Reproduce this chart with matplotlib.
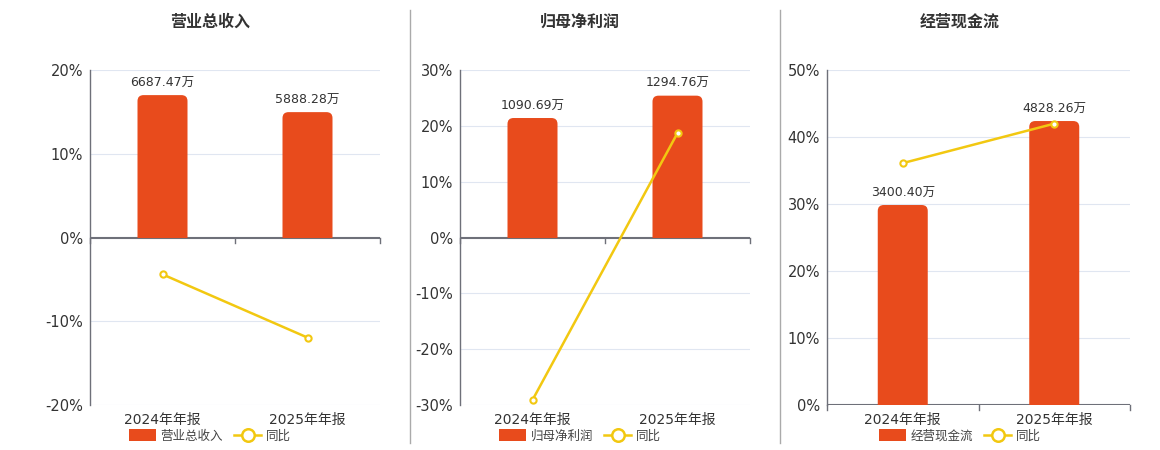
import matplotlib
matplotlib.use("Agg")
import matplotlib.pyplot as plt
from matplotlib.patches import FancyBboxPatch, Rectangle
from matplotlib.lines import Line2D
from matplotlib.ticker import FuncFormatter

plt.rcParams['font.family'] = ['DejaVu Sans', 'Noto Sans CJK SC']

categories = ["2024年年报", "2025年年报"]

titles = ["营业总收入", "归母净利润", "经营现金流"]
bar_values = [
    [6687.47, 5888.28],
    [1090.69, 1294.76],
    [3400.40, 4828.26],
]
bar_labels = [
    ["6687.47万", "5888.28万"],
    ["1090.69万", "1294.76万"],
    ["3400.40万", "4828.26万"],
]
yoy_values = [
    [-4.4, -11.95],
    [-29.1, 18.71],
    [36.1, 41.99],
]
pct_ticks = [
    [-20, -10, 0, 10, 20],
    [-30, -20, -10, 0, 10, 20, 30],
    [0, 10, 20, 30, 40, 50],
]
# hidden bar-axis upper limits (aligned so 0 coincides with 0%)
bar_axis_max = [7867, 1529, 5696]

BAR_COLOR = "#E84B1C"
LINE_COLOR = "#F2C811"
GRID_COLOR = "#E0E6F1"
AXIS_COLOR = "#6E7079"
TEXT_COLOR = "#333333"

W, H = 1160, 450
fig = plt.figure(figsize=(W / 100, H / 100), dpi=100)

# axes pixel boxes: (left, top, right, bottom)
boxes = [(90, 70, 380, 405), (460, 70, 750, 405), (827, 70, 1130, 405)]
title_x = [210, 580, 960]

for i in range(3):
    l, t, r, b = boxes[i]
    ax = fig.add_axes([l / W, 1 - b / H, (r - l) / W, (b - t) / H])
    ticks = pct_ticks[i]
    lo, hi = ticks[0], ticks[-1]
    ax.set_ylim(lo, hi)
    ax.set_xlim(-0.5, 1.5)
    ax.set_yticks(ticks)
    ax.yaxis.set_major_formatter(FuncFormatter(lambda v, p: f"{int(v)}%"))
    ax.tick_params(axis='y', length=0, labelsize=10.5, colors=TEXT_COLOR, pad=5)
    ax.set_xticks([0, 1])
    ax.set_xticklabels(categories)
    ax.tick_params(axis='x', length=0, labelsize=10, colors=TEXT_COLOR, pad=6)
    for sp in ['top', 'right', 'bottom']:
        ax.spines[sp].set_visible(False)
    ax.spines['left'].set_color(AXIS_COLOR)
    ax.spines['left'].set_linewidth(1)
    for v in ticks:
        if v != 0:
            ax.axhline(v, color=GRID_COLOR, lw=0.8, zorder=0)
    # category axis line at zero
    ax.axhline(0, color=AXIS_COLOR, lw=1.5, zorder=4)
    # ticks at category boundaries
    tick_len = 5 * (hi - lo) / (b - t)
    for xb in [-0.5, 0.5, 1.5]:
        ax.plot([xb, xb], [0, -tick_len], color=AXIS_COLOR, lw=1, zorder=4,
                clip_on=False)

    # bars on hidden twin axis
    ax2 = ax.twinx()
    bmax = bar_axis_max[i]
    bmin = bmax * lo / hi
    ax2.set_ylim(bmin, bmax)
    ax2.set_axis_off()
    bw = 50 / ((r - l) / 2)
    bars = ax2.bar([0, 1], bar_values[i], width=bw, color=BAR_COLOR, zorder=2)
    px_per_x = (r - l) / 2
    px_per_y = (b - t) / (bmax - bmin)
    rad_px = 6
    rx = rad_px / px_per_x
    ry = rad_px / px_per_y
    for rect in bars:
        x0, w = rect.get_x(), rect.get_width()
        h = rect.get_height()
        rect.set_visible(False)
        patch = FancyBboxPatch((x0, -2 * ry), w, h + 2 * ry,
                               boxstyle=f"round,pad=0,rounding_size={rx}",
                               mutation_aspect=ry / rx,
                               facecolor=BAR_COLOR, edgecolor='none', zorder=2)
        ax2.add_patch(patch)
        clip = Rectangle((x0 - w, 0), 3 * w, h * 2, transform=ax2.transData)
        patch.set_clip_path(clip)
    for j, v in enumerate(bar_values[i]):
        ax2.annotate(bar_labels[i][j], (j, v), xytext=(0, 4),
                     textcoords='offset points', ha='center', va='bottom',
                     fontsize=9, color=TEXT_COLOR, zorder=6)

    # yoy line on top
    ax3 = ax.twinx()
    ax3.set_ylim(lo, hi)
    ax3.set_axis_off()
    ax3.plot([0, 1], yoy_values[i], color=LINE_COLOR, lw=1.8, zorder=5,
             marker='o', markersize=4.5, markerfacecolor='white',
             markeredgecolor=LINE_COLOR, markeredgewidth=1.5)

    # title
    fig.text(title_x[i] / W, 1 - 22 / H, titles[i], ha='center', va='center',
             fontsize=11.5, fontweight='bold', color=TEXT_COLOR)

    # legend
    handles = [
        Rectangle((0, 0), 1, 1, facecolor=BAR_COLOR, edgecolor='none'),
        Line2D([0], [0], color=LINE_COLOR, lw=1.8, marker='o', markersize=9,
               markerfacecolor='white', markeredgecolor=LINE_COLOR,
               markeredgewidth=1.8),
    ]
    leg = fig.legend(handles, [titles[i], "同比"], loc='center',
                     bbox_to_anchor=(title_x[i] / W, 1 - 436 / H), ncol=2,
                     frameon=False, fontsize=9, handlelength=2.1,
                     handleheight=1.1, handletextpad=0.4, columnspacing=0.9,
                     labelcolor='#444444')

# separators
for xs in [410, 780]:
    fig.add_artist(Line2D([xs / W, xs / W], [1 - 10 / H, 1 - 443 / H],
                          color='#AAAAAA', lw=1))

fig.savefig("out.png", dpi=100)
